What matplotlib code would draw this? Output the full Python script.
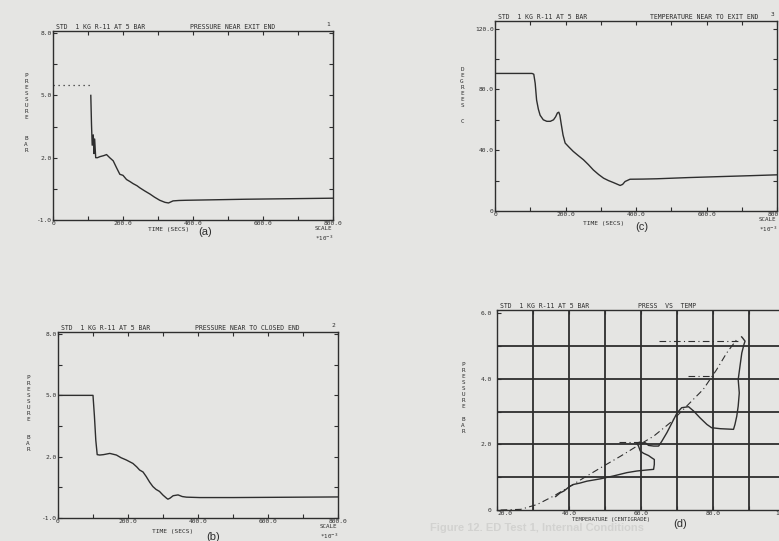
import numpy as np
import matplotlib
matplotlib.use("Agg")
import matplotlib.pyplot as plt

# panel (a): pressure near exit end
a_init_time = [0, 108]
a_init_pres = [5.5, 5.5]
a_time = [108, 110, 112, 115, 117, 119, 122, 127, 134, 145, 153, 162, 172, 182, 191,
          200, 210, 220, 229, 240, 248, 262, 277, 290, 305, 320, 330, 343, 360, 381,
          450, 550, 650, 800]
a_pres = [5.0, 3.6, 2.6, 3.1, 2.2, 2.9, 2.0, 2.0, 2.05, 2.1, 2.15, 2.0, 1.85, 1.5, 1.2,
          1.15, 0.95, 0.85, 0.75, 0.65, 0.55, 0.4, 0.25, 0.1, -0.05, -0.15, -0.18, -0.08,
          -0.06, -0.05, -0.03, 0.0, 0.02, 0.05]

# panel (b): pressure near to closed end
b_time = [0, 100, 104, 108, 112, 119, 130, 148, 167, 180, 195, 214, 225, 233, 243, 252,
          262, 271, 280, 290, 300, 310, 314, 320, 329, 343, 355, 367, 405, 500, 600, 700, 800]
b_pres = [5.0, 5.0, 4.0, 2.8, 2.1, 2.08, 2.1, 2.16, 2.08, 1.95, 1.84, 1.67, 1.5, 1.35,
          1.25, 1.03, 0.75, 0.54, 0.4, 0.3, 0.12, -0.03, -0.08, -0.03, 0.09, 0.13, 0.05,
          0.02, 0.0, 0.0, 0.01, 0.02, 0.03]

# panel (c): temperature near to exit end
c_time = [0, 105, 110, 114, 118, 123, 128, 137, 147, 157, 166, 172, 177, 181, 184, 188,
          193, 199, 210, 222, 236, 251, 265, 279, 294, 308, 322, 336, 348, 355, 362, 369,
          383, 420, 459, 550, 648, 720, 800]
c_temp = [90.5, 90.5, 90, 84, 73, 67, 63, 60, 59, 59, 60, 62, 64.5, 65, 63, 57, 50, 44.7,
          42, 39.2, 36.5, 33.7, 30.5, 27, 24, 21.6, 20, 18.7, 17.5, 16.8, 17.5, 19.4, 20.9,
          21, 21.2, 22, 22.7, 23.2, 23.8]

# panel (d): pressure vs temperature
d_sat_temp = [21, 26.6, 31.2, 35.8, 40.4, 45, 49.6, 54.3, 58.9, 63.5, 68.1, 72.7, 77.3,
              81, 83.8, 86.6]
d_sat_pres = [0.0, 0.02, 0.17, 0.43, 0.73, 1.04, 1.34, 1.64, 1.95, 2.25, 2.66, 3.17, 3.68,
              4.28, 4.79, 5.2]
d_temp = [36.3, 37.5, 38.6, 39.5, 40.4, 41.3, 43.0, 45.0, 48.7, 52.4, 56.1, 58.9, 61.6,
          63.5, 63.7, 63.7, 63.0, 62.1, 60.7, 59.8, 59.3, 58.9, 59.6, 60.3, 61.2, 62.1,
          63.5, 64.9, 65.8, 67.2, 68.6, 70.0, 71.3, 73.2, 74.6, 76.4, 78.3, 79.6, 82.0,
          85.7, 86.1, 86.6, 87.0, 87.3, 87.0, 87.5, 88.0, 88.6, 88.9, 88.2, 87.96]
d_pres = [0.41, 0.52, 0.58, 0.66, 0.73, 0.78, 0.82, 0.88, 0.95, 1.04, 1.14, 1.19, 1.22,
          1.24, 1.39, 1.54, 1.59, 1.66, 1.73, 1.80, 1.95, 2.03, 2.07, 2.03, 2.05, 1.97,
          1.95, 1.95, 2.10, 2.36, 2.66, 2.96, 3.12, 3.15, 3.02, 2.81, 2.61, 2.51, 2.48,
          2.46, 2.61, 2.86, 3.17, 3.57, 3.98, 4.39, 4.79, 5.05, 5.15, 5.25, 5.28]
d_dash_levels = [5.15, 4.1, 2.08]
d_dash_from = [65, 73, 54]
d_dash_to = [87, 80, 61]

BG = '#e5e5e3'
INK = '#2e2e2e'
W, H = 779, 541
mono = 'DejaVu Sans Mono'

fig = plt.figure(figsize=(W / 100, H / 100), dpi=100)
fig.patch.set_facecolor(BG)


def box(x0, x1, ytop, ybot):
    # pixel box -> figure fractions
    return [x0 / W, (H - ybot) / H, (x1 - x0) / W, (ybot - ytop) / H]


def style(ax):
    ax.set_facecolor(BG)
    for s in ax.spines.values():
        s.set_color(INK)
        s.set_linewidth(1.0)
    ax.tick_params(direction='in', length=3, width=0.8, color=INK, labelsize=4.5,
                   labelcolor=INK, top=True, right=True, pad=1)
    for lab in ax.get_xticklabels() + ax.get_yticklabels():
        lab.set_family(mono)


def titles(ax, left, right, num, rx=0.50):
    ax.text(0.01, 1.005, left, transform=ax.transAxes, fontsize=4.7, family=mono,
            color=INK, va='bottom', ha='left')
    ax.text(rx, 1.005, right, transform=ax.transAxes, fontsize=4.7, family=mono,
            color=INK, va='bottom', ha='left')
    ax.text(0.99, 1.02, num, transform=ax.transAxes, fontsize=4.5, family=mono,
            color=INK, va='bottom', ha='right')


def stacked(x, y, word):
    fig.text(x / W, 1 - y / H, '\n'.join(word), fontsize=4.3, family=mono, color=INK,
             va='top', ha='center', linespacing=1.25)


def time_axis(ax, xlab_x, xlab_y, tag_x, tag_y, scale_x, scale_y, tag):
    ax.set_xlim(0, 800)
    ax.set_xticks(np.arange(0, 801, 100))
    ax.set_xticklabels(['0', '', '200.0', '', '400.0', '', '600.0', '', '800.0'])
    fig.text(xlab_x / W, 1 - xlab_y / H, 'TIME (SECS)', fontsize=4.5, family=mono,
             color=INK, ha='left', va='center')
    fig.text(tag_x / W, 1 - tag_y / H, tag, fontsize=8, family='Liberation Sans',
             color=INK, ha='center', va='center')
    fig.text(scale_x / W, 1 - scale_y / H, 'SCALE\n*10$^{-3}$', fontsize=4.2, family=mono,
             color=INK, ha='left', va='top', linespacing=1.4)


# (a)
ax = fig.add_axes(box(53, 333, 31, 220))
ax.plot(a_init_time, a_init_pres, color=INK, lw=0.9, ls=(0, (1, 3)))
ax.plot(a_time, a_pres, color=INK, lw=1.0)
ax.set_ylim(-1, 8.1)
ax.set_yticks(np.arange(-1, 8.1, 1.5))
ax.set_yticklabels(['-1.0', '', '2.0', '', '5.0', '', '8.0'])
style(ax)
time_axis(ax, 148, 230, 205, 232, 315, 226, '(a)')
titles(ax, 'STD  1 KG R-11 AT 5 BAR', 'PRESSURE NEAR EXIT END', '1', rx=0.49)
stacked(26, 73, 'PRESSURE')
stacked(26, 136, 'BAR')

# (b)
ax = fig.add_axes(box(58, 338, 332, 518))
ax.plot(b_time, b_pres, color=INK, lw=1.0)
ax.set_ylim(-1, 8.1)
ax.set_yticks(np.arange(-1, 8.1, 1.5))
ax.set_yticklabels(['-1.0', '', '2.0', '', '5.0', '', '8.0'])
style(ax)
time_axis(ax, 152, 532, 213, 537, 320, 524, '(b)')
titles(ax, 'STD  1 KG R-11 AT 5 BAR', 'PRESSURE NEAR TO CLOSED END', '2', rx=0.49)
stacked(28, 375, 'PRESSURE')
stacked(28, 435, 'BAR')

# (c)
ax = fig.add_axes(box(495, 777, 21, 211))
ax.plot(c_time, c_temp, color=INK, lw=1.0)
ax.set_ylim(0, 125)
ax.set_yticks(np.arange(0, 121, 20))
ax.set_yticklabels(['0', '', '40.0', '', '80.0', '', '120.0'])
style(ax)
time_axis(ax, 583, 224, 642, 227, 759, 217, '(c)')
titles(ax, 'STD  1 KG R-11 AT 5 BAR', 'TEMPERATURE NEAR TO EXIT END', '3', rx=0.55)
stacked(462, 67, 'DEGREES')
stacked(462, 119, 'C')

# (d)
ax = fig.add_axes(box(497, 785, 310, 510))
ax.set_xlim(20, 100)
ax.set_ylim(0, 6.1)
ax.set_xticks(np.arange(20, 101, 10))
ax.set_xticklabels(['20.0', '', '40.0', '', '60.0', '', '80.0', '', '100.0'])
ax.set_yticks(np.arange(0, 6.1, 1))
ax.set_yticklabels(['0', '', '2.0', '', '4.0', '', '6.0'])
for gx in range(30, 100, 10):
    ax.axvline(gx, color=INK, lw=1.3)
for gy in range(1, 6):
    ax.axhline(gy, color=INK, lw=1.3)
ax.plot(d_sat_temp, d_sat_pres, color=INK, lw=0.8, ls=(0, (6, 3, 1, 3)))
for lev, t0, t1 in zip(d_dash_levels, d_dash_from, d_dash_to):
    ax.plot([t0, t1], [lev, lev], color=INK, lw=0.8, ls=(0, (6, 3, 1, 3)))
ax.plot(d_temp, d_pres, color=INK, lw=1.0)
style(ax)
ax.get_xticklabels()[0].set_ha('left')
ax.tick_params(axis='y', pad=4)
ax.text(0.01, 1.005, 'STD  1 KG R-11 AT 5 BAR', transform=ax.transAxes, fontsize=4.7,
        family=mono, color=INK, va='bottom')
ax.text(0.49, 1.005, 'PRESS  VS  TEMP', transform=ax.transAxes, fontsize=4.7,
        family=mono, color=INK, va='bottom')
fig.text(572 / W, 1 - 519 / H, 'TEMPERATURE (CENTIGRADE)', fontsize=4.0, family=mono,
         color=INK, ha='left', va='center')
fig.text(680 / W, 1 - 524 / H, '(d)', fontsize=8, family='Liberation Sans', color=INK,
         ha='center', va='center')
stacked(463, 362, 'PRESSURE')
stacked(463, 417, 'BAR')

# faint caption bleeding through the scan
fig.text(430 / W, 1 - 528 / H, 'Figure 12. ED Test 1, Internal Conditions', fontsize=8,
         weight='bold', family='Liberation Sans', color='#d2d2d0', ha='left', va='center',
         zorder=0)

fig.savefig('out.png', dpi=100, facecolor=BG)
